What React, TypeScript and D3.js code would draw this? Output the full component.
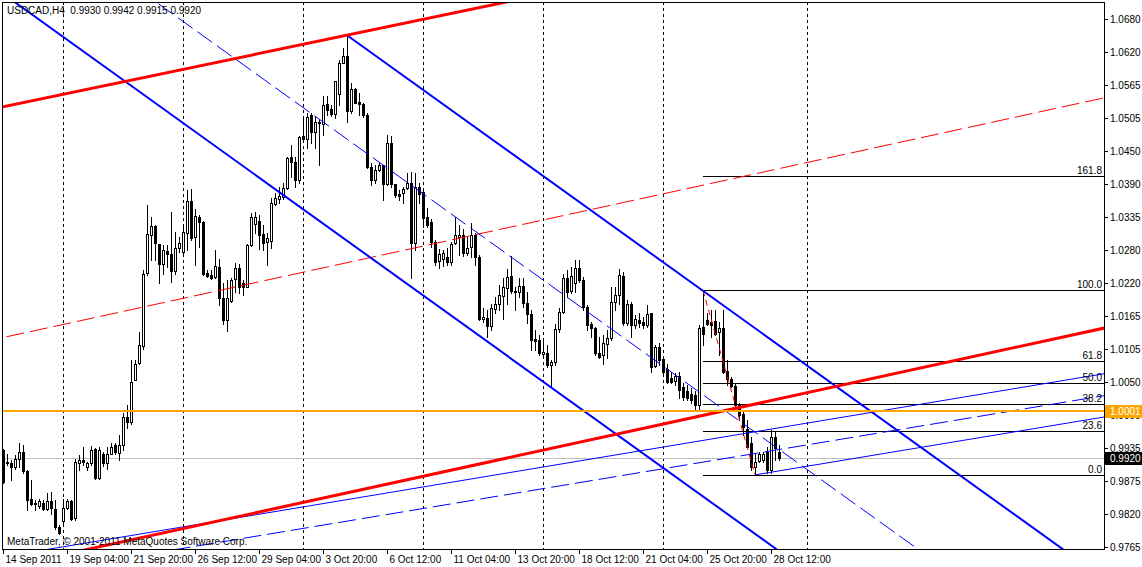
import * as d3 from 'd3';
import { useEffect, useRef } from 'react';

// USDCAD H4, 14 Sep 2011 12:00 .. 28 Oct 2011 20:00 (bar 0 .. 194)
const opens = [
    0.9933, 0.9911, 0.9910, 0.9904, 0.9918, 0.9929, 0.9896, 0.9848, 0.9839, 0.9836,
    0.9842, 0.9830, 0.9844, 0.9830, 0.9800, 0.9810, 0.9832, 0.9845, 0.9815, 0.9911,
    0.9916, 0.9904, 0.9910, 0.9934, 0.9884, 0.9927, 0.9910, 0.9927, 0.9941, 0.9928,
    0.9942, 0.9990, 0.9981, 1.0054, 1.0084, 1.0113, 1.0240, 1.0305, 1.0321, 1.0290,
    1.0255, 1.0278, 1.0272, 1.0244, 1.0283, 1.0277, 1.0310, 1.0365, 1.0302, 1.0337,
    1.0328, 1.0240, 1.0237, 1.0233, 1.0251, 1.0196, 1.0158, 1.0192, 1.0229, 1.0248,
    1.0222, 1.0216, 1.0288, 1.0325, 1.0330, 1.0307, 1.0294, 1.0296, 1.0360, 1.0368,
    1.0372, 1.0388, 1.0441, 1.0433, 1.0401, 1.0477, 1.0472, 1.0514, 1.0485, 1.0502,
    1.0498, 1.0533, 1.0524, 1.0515, 1.0550, 1.0604, 1.0616, 1.0521, 1.0558, 1.0537,
    1.0533, 1.0514, 1.0424, 1.0401, 1.0418, 1.0427, 1.0394, 1.0465, 1.0394, 1.0377,
    1.0378, 1.0388, 1.0395, 1.0292, 1.0389, 1.0380, 1.0337, 1.0329, 1.0294, 1.0261,
    1.0265, 1.0268, 1.0259, 1.0292, 1.0303, 1.0306, 1.0275, 1.0285, 1.0306, 1.0268,
    1.0160, 1.0162, 1.0148, 1.0178, 1.0187, 1.0200, 1.0214, 1.0234, 1.0209, 1.0207,
    1.0217, 1.0188, 1.0169, 1.0125, 1.0124, 1.0099, 1.0102, 1.0080, 1.0086, 1.0142,
    1.0173, 1.0231, 1.0208, 1.0222, 1.0248, 1.0228, 1.0181, 1.0151, 1.0145, 1.0102,
    1.0097, 1.0117, 1.0127, 1.0190, 1.0202, 1.0235, 1.0153, 1.0186, 1.0150, 1.0158,
    1.0155, 1.0149, 1.0170, 1.0079, 1.0112, 1.0091, 1.0074, 1.0058, 1.0052, 1.0062,
    1.0043, 1.0036, 1.0030, 1.0028, 1.0011, 1.0147, 1.0158, 1.0155, 1.0157, 1.0138,
    1.0144, 1.0070, 1.0057, 1.0044, 1.0011, 0.9996, 0.9970, 0.9946, 0.9904, 0.9914,
    0.9916, 0.9930, 0.9898, 0.9956, 0.9930,
];
const highs = [
    0.9935, 0.9927, 0.9916, 0.9924, 0.9945, 0.9942, 0.9898, 0.9881, 0.9846, 0.9849,
    0.9846, 0.9859, 0.9861, 0.9846, 0.9803, 0.9849, 0.9848, 0.9846, 0.9917, 0.9924,
    0.9939, 0.9913, 0.9940, 0.9936, 0.9938, 0.9930, 0.9939, 0.9946, 0.9945, 0.9959,
    0.9997, 1.0011, 1.0089, 1.0089, 1.0138, 1.0245, 1.0358, 1.0337, 1.0323, 1.0291,
    1.0288, 1.0288, 1.0346, 1.0311, 1.0303, 1.0323, 1.0384, 1.0385, 1.0350, 1.0340,
    1.0330, 1.0245, 1.0245, 1.0280, 1.0265, 1.0222, 1.0228, 1.0232, 1.0257, 1.0256,
    1.0228, 1.0291, 1.0343, 1.0346, 1.0340, 1.0323, 1.0309, 1.0369, 1.0378, 1.0389,
    1.0395, 1.0441, 1.0462, 1.0441, 1.0477, 1.0510, 1.0517, 1.0517, 1.0512, 1.0505,
    1.0547, 1.0547, 1.0531, 1.0573, 1.0609, 1.0629, 1.0652, 1.0569, 1.0560, 1.0551,
    1.0535, 1.0517, 1.0430, 1.0427, 1.0433, 1.0427, 1.0479, 1.0477, 1.0394, 1.0384,
    1.0389, 1.0414, 1.0415, 1.0413, 1.0395, 1.0387, 1.0352, 1.0333, 1.0297, 1.0281,
    1.0280, 1.0283, 1.0294, 1.0337, 1.0323, 1.0316, 1.0303, 1.0326, 1.0309, 1.0271,
    1.0179, 1.0176, 1.0187, 1.0199, 1.0219, 1.0231, 1.0246, 1.0269, 1.0216, 1.0231,
    1.0231, 1.0207, 1.0176, 1.0141, 1.0132, 1.0127, 1.0115, 1.0089, 1.0151, 1.0179,
    1.0239, 1.0245, 1.0251, 1.0262, 1.0262, 1.0233, 1.0184, 1.0155, 1.0147, 1.0129,
    1.0132, 1.0141, 1.0216, 1.0216, 1.0246, 1.0242, 1.0193, 1.0190, 1.0167, 1.0170,
    1.0164, 1.0184, 1.0171, 1.0115, 1.0118, 1.0095, 1.0083, 1.0069, 1.0066, 1.0069,
    1.0049, 1.0046, 1.0040, 1.0035, 1.0150, 1.0210, 1.0170, 1.0176, 1.0176, 1.0155,
    1.0176, 1.0089, 1.0060, 1.0049, 1.0014, 0.9999, 0.9985, 0.9956, 0.9927, 0.9930,
    0.9930, 0.9939, 0.9968, 0.9965, 0.9942,
];
const lows = [
    0.9876, 0.9907, 0.9881, 0.9901, 0.9904, 0.9893, 0.9829, 0.9838, 0.9829, 0.9832,
    0.9829, 0.9829, 0.9823, 0.9797, 0.9787, 0.9806, 0.9830, 0.9812, 0.9812, 0.9898,
    0.9907, 0.9898, 0.9907, 0.9882, 0.9882, 0.9905, 0.9901, 0.9926, 0.9927, 0.9915,
    0.9933, 0.9971, 0.9979, 1.0054, 1.0083, 1.0108, 1.0236, 1.0262, 1.0262, 1.0222,
    1.0239, 1.0251, 1.0225, 1.0239, 1.0277, 1.0274, 1.0280, 1.0297, 1.0254, 1.0285,
    1.0236, 1.0233, 1.0230, 1.0231, 1.0184, 1.0151, 1.0140, 1.0190, 1.0207, 1.0205,
    1.0202, 1.0216, 1.0286, 1.0310, 1.0281, 1.0280, 1.0254, 1.0283, 1.0357, 1.0362,
    1.0368, 1.0385, 1.0407, 1.0389, 1.0395, 1.0470, 1.0456, 1.0465, 1.0456, 1.0427,
    1.0479, 1.0514, 1.0512, 1.0508, 1.0531, 1.0603, 1.0502, 1.0517, 1.0534, 1.0514,
    1.0511, 1.0421, 1.0392, 1.0395, 1.0416, 1.0366, 1.0392, 1.0389, 1.0372, 1.0366,
    1.0362, 1.0386, 1.0231, 1.0280, 1.0361, 1.0320, 1.0320, 1.0285, 1.0254, 1.0248,
    1.0252, 1.0254, 1.0254, 1.0290, 1.0271, 1.0269, 1.0271, 1.0268, 1.0254, 1.0158,
    1.0155, 1.0129, 1.0141, 1.0170, 1.0176, 1.0161, 1.0187, 1.0205, 1.0176, 1.0199,
    1.0181, 1.0153, 1.0106, 1.0106, 1.0098, 1.0095, 1.0077, 1.0043, 1.0080, 1.0138,
    1.0170, 1.0199, 1.0205, 1.0207, 1.0225, 1.0176, 1.0141, 1.0129, 1.0098, 1.0092,
    1.0083, 1.0092, 1.0124, 1.0176, 1.0187, 1.0150, 1.0150, 1.0129, 1.0144, 1.0147,
    1.0144, 1.0147, 1.0069, 1.0077, 1.0080, 1.0066, 1.0049, 1.0049, 1.0046, 1.0023,
    1.0020, 1.0020, 1.0015, 1.0002, 1.0000, 1.0115, 1.0150, 1.0129, 1.0132, 1.0098,
    1.0067, 1.0046, 1.0043, 1.0008, 0.9985, 0.9959, 0.9936, 0.9898, 0.9890, 0.9912,
    0.9913, 0.9894, 0.9894, 0.9916, 0.9915,
];
const closes = [
    0.9878, 0.9913, 0.9904, 0.9917, 0.9929, 0.9896, 0.9846, 0.9840, 0.9841, 0.9844,
    0.9830, 0.9844, 0.9832, 0.9799, 0.9789, 0.9832, 0.9845, 0.9814, 0.9913, 0.9916,
    0.9913, 0.9911, 0.9933, 0.9884, 0.9933, 0.9910, 0.9926, 0.9939, 0.9929, 0.9942,
    0.9990, 0.9981, 1.0051, 1.0083, 1.0115, 1.0239, 1.0307, 1.0321, 1.0292, 1.0255,
    1.0279, 1.0272, 1.0244, 1.0284, 1.0292, 1.0311, 1.0365, 1.0300, 1.0339, 1.0328,
    1.0238, 1.0235, 1.0232, 1.0252, 1.0196, 1.0158, 1.0196, 1.0228, 1.0248, 1.0215,
    1.0215, 1.0288, 1.0337, 1.0337, 1.0305, 1.0292, 1.0300, 1.0361, 1.0369, 1.0373,
    1.0387, 1.0439, 1.0433, 1.0401, 1.0476, 1.0472, 1.0510, 1.0485, 1.0502, 1.0499,
    1.0531, 1.0522, 1.0515, 1.0572, 1.0603, 1.0616, 1.0521, 1.0558, 1.0535, 1.0533,
    1.0514, 1.0424, 1.0401, 1.0418, 1.0427, 1.0394, 1.0465, 1.0394, 1.0375, 1.0374,
    1.0385, 1.0396, 1.0292, 1.0389, 1.0376, 1.0335, 1.0323, 1.0294, 1.0259, 1.0273,
    1.0275, 1.0259, 1.0291, 1.0306, 1.0306, 1.0274, 1.0283, 1.0306, 1.0268, 1.0160,
    1.0164, 1.0148, 1.0179, 1.0187, 1.0202, 1.0216, 1.0233, 1.0209, 1.0207, 1.0217,
    1.0188, 1.0169, 1.0124, 1.0122, 1.0101, 1.0103, 1.0080, 1.0086, 1.0142, 1.0173,
    1.0231, 1.0207, 1.0235, 1.0248, 1.0228, 1.0181, 1.0150, 1.0144, 1.0101, 1.0095,
    1.0118, 1.0127, 1.0190, 1.0202, 1.0236, 1.0153, 1.0186, 1.0150, 1.0160, 1.0154,
    1.0150, 1.0169, 1.0077, 1.0112, 1.0089, 1.0069, 1.0051, 1.0051, 1.0061, 1.0037,
    1.0025, 1.0023, 1.0020, 1.0011, 1.0144, 1.0134, 1.0151, 1.0150, 1.0135, 1.0144,
    1.0069, 1.0057, 1.0044, 1.0011, 0.9994, 0.9973, 0.9939, 0.9904, 0.9913, 0.9927,
    0.9927, 0.9898, 0.9956, 0.9936, 0.9920,
];

const timeLabels = [
    '14 Sep 2011', '19 Sep 04:00', '21 Sep 20:00', '26 Sep 12:00', '29 Sep 04:00', '3 Oct 20:00',
    '6 Oct 12:00', '11 Oct 04:00', '13 Oct 20:00', '18 Oct 12:00', '21 Oct 04:00', '25 Oct 20:00',
    '28 Oct 12:00',
];
const timeLabelBars = [0, 16, 32, 48, 64, 80, 96, 112, 128, 144, 160, 176, 192];
const weekStartBars = [15, 45, 75, 105, 135, 165, 201];

const priceLabels = [
    '0.9765', '0.9820', '0.9875', '0.9935', '0.9990', '1.0050', '1.0105', '1.0165', '1.0220',
    '1.0280', '1.0335', '1.0390', '1.0450', '1.0505', '1.0565', '1.0620', '1.0680',
];
const priceAxisMin = 0.9765;
const priceAxisMax = 1.068;

// objects: [bar, price] anchor pairs
const redChannelUpper = [[86, 1.0652], [275, 1.0925]];
const redChannelLower = [[49, 0.9803], [275, 1.0144]];
const redChannelMid = [[0, 1.0128], [275, 1.0543]];
const blueChannelUpper = [[86, 1.0652], [266, 0.9756]];
const blueChannelLower = [[0, 1.0724], [195, 0.9753]];
const blueChannelMid = [[0, 1.09], [230, 0.9755]];
const thinChannelUpper = [[0, 0.9748], [275, 1.0065]];
const thinChannelMid = [[0, 0.9711], [275, 1.0027]];
const thinChannelLower = [[188, 0.989], [275, 0.999]];

const fibHigh = [175, 1.021];
const fibLow = [188, 0.989];
const fibLevels = [0, 23.6, 38.2, 50, 61.8, 100, 161.8];

const supportPrice = 1.0001;
const bidPrice = 0.992;
const chartTitle = 'USDCAD,H4  0.9930 0.9942 0.9915 0.9920';
const copyright = 'MetaTrader, © 2001-2011 MetaQuotes Software Corp.';

export default function App() {
    const chartRef = useRef<SVGSVGElement | null>(null);

    useEffect(() => {
        if (!chartRef.current) return;
        const svg = d3.select(chartRef.current);
        svg.selectAll('*').remove();

        const width = 1142;
        const height = 567;
        const plot = { left: 2, top: 2, right: 1104, bottom: 549 };
        const font = "'Liberation Sans', Arial, sans-serif";
        const fontSize = 10;

        // 4px per bar, bar 0 at x=3
        const x = d3.scaleLinear().domain([0, 1]).range([3, 7]);
        const y = d3.scaleLinear().domain([priceAxisMin, priceAxisMax]).range([547, 19.05]);

        svg.attr('viewBox', `0 0 ${width} ${height}`);
        svg.append('rect').attr('width', width).attr('height', height).attr('fill', '#fff');

        svg.append('defs')
            .append('clipPath')
            .attr('id', 'plotClip')
            .append('rect')
            .attr('x', plot.left)
            .attr('y', plot.top)
            .attr('width', plot.right - plot.left)
            .attr('height', plot.bottom - plot.top);

        const g = svg.append('g').attr('clip-path', 'url(#plotClip)').attr('shape-rendering', 'crispEdges');

        // weekly grid
        g.selectAll('line.grid')
            .data(weekStartBars)
            .join('line')
            .attr('x1', (d) => Math.round(x(d)) + 0.5)
            .attr('x2', (d) => Math.round(x(d)) + 0.5)
            .attr('y1', plot.top)
            .attr('y2', plot.bottom)
            .attr('stroke', '#000')
            .attr('stroke-dasharray', '3,3');

        // bid line
        g.append('line')
            .attr('x1', plot.left)
            .attr('x2', plot.right)
            .attr('y1', Math.round(y(bidPrice)) + 0.5)
            .attr('y2', Math.round(y(bidPrice)) + 0.5)
            .attr('stroke', '#c0c0c0');

        // candles
        const bars = d3.range(opens.length);
        const candles = g.append('g');
        bars.forEach((i) => {
            const cx = Math.round(x(i));
            const o = opens[i];
            const c = closes[i];
            const hi = Math.round(y(highs[i]));
            const lo = Math.round(y(lows[i]));
            const top = Math.round(y(Math.max(o, c)));
            const bot = Math.round(y(Math.min(o, c)));
            candles.append('rect').attr('x', cx).attr('y', hi).attr('width', 1).attr('height', lo - hi + 1).attr('fill', '#000');
            candles.append('rect').attr('x', cx - 1).attr('y', top).attr('width', 3).attr('height', bot - top + 1).attr('fill', '#000');
            if (c > o && bot - top > 1) {
                candles.append('rect').attr('x', cx).attr('y', top + 1).attr('width', 1).attr('height', bot - top - 1).attr('fill', '#fff');
            }
        });

        // fibonacci levels
        const fibStartX = x(fibHigh[0]);
        const fibPrice = (lvl: number) => fibLow[1] + ((fibHigh[1] - fibLow[1]) * lvl) / 100;
        g.selectAll('line.fib')
            .data(fibLevels)
            .join('line')
            .attr('x1', fibStartX)
            .attr('x2', plot.right)
            .attr('y1', (d) => Math.round(y(fibPrice(d))) + 0.5)
            .attr('y2', (d) => Math.round(y(fibPrice(d))) + 0.5)
            .attr('stroke', '#000');

        const lineAt = (a: number[], b: number[], i: number) => a[1] + ((b[1] - a[1]) * (i - a[0])) / (b[0] - a[0]);
        const drawLine = (anchors: number[][], from: number | null, to: number, color: string, w: number, dash?: string) => {
            const [a, b] = anchors;
            const i0 = from === null ? -5 : from;
            const el = g.append('line')
                .attr('x1', x(i0))
                .attr('y1', y(lineAt(a, b, i0)))
                .attr('x2', x(to))
                .attr('y2', y(lineAt(a, b, to)))
                .attr('stroke', color)
                .attr('stroke-width', w)
                .attr('shape-rendering', 'auto');
            if (dash) el.attr('stroke-dasharray', dash);
        };

        drawLine([fibHigh, fibLow], fibHigh[0], fibLow[0], '#ff0000', 1, '6,4');

        drawLine(redChannelMid, null, 280, '#ff0000', 1, '18,6');
        drawLine(blueChannelMid, null, 280, '#0000ff', 1, '18,6');
        drawLine(thinChannelMid, null, 280, '#0000ff', 1, '18,6');
        drawLine(thinChannelUpper, null, 280, '#0000ff', 1);
        drawLine(thinChannelLower, thinChannelLower[0][0], 280, '#0000ff', 1);
        drawLine(blueChannelUpper, blueChannelUpper[0][0], 280, '#0000ff', 2);
        drawLine(blueChannelLower, null, 280, '#0000ff', 2);
        drawLine(redChannelUpper, null, 280, '#ff0000', 3);
        drawLine(redChannelLower, null, 280, '#ff0000', 3);

        // support line
        g.append('rect')
            .attr('x', plot.left)
            .attr('y', Math.round(y(supportPrice)) - 1)
            .attr('width', plot.right - plot.left)
            .attr('height', 2)
            .attr('fill', '#ffa500');

        // fib labels
        svg.append('g')
            .selectAll('text')
            .data(fibLevels)
            .join('text')
            .attr('x', plot.right - 2)
            .attr('y', (d) => Math.round(y(fibPrice(d))) - 2)
            .attr('text-anchor', 'end')
            .attr('font-family', font)
            .attr('font-size', fontSize)
            .attr('fill', '#000')
            .text((d) => d.toFixed(1));

        // frame
        svg.append('rect')
            .attr('x', plot.left + 0.5)
            .attr('y', plot.top + 0.5)
            .attr('width', plot.right - plot.left)
            .attr('height', plot.bottom - plot.top)
            .attr('fill', 'none')
            .attr('stroke', '#000')
            .attr('shape-rendering', 'crispEdges');

        // price axis
        const step = (priceAxisMax - priceAxisMin) / (priceLabels.length - 1);
        const pAxis = svg.append('g').attr('shape-rendering', 'crispEdges');
        priceLabels.forEach((lbl, k) => {
            const py = Math.round(y(priceAxisMin + k * step)) + 0.5;
            pAxis.append('line').attr('x1', plot.right).attr('x2', plot.right + 4).attr('y1', py).attr('y2', py).attr('stroke', '#000');
            pAxis.append('text')
                .attr('x', plot.right + 6)
                .attr('y', py)
                .attr('dy', '0.35em')
                .attr('font-family', font)
                .attr('font-size', fontSize)
                .attr('fill', '#000')
                .text(lbl);
        });

        // time axis
        const tAxis = svg.append('g').attr('shape-rendering', 'crispEdges');
        timeLabelBars.forEach((b, k) => {
            const tx = Math.round(x(b)) + 0.5;
            tAxis.append('line').attr('x1', tx).attr('x2', tx).attr('y1', plot.bottom).attr('y2', plot.bottom + 5).attr('stroke', '#000');
            tAxis.append('text')
                .attr('x', tx + 2)
                .attr('y', plot.bottom + 14)
                .attr('font-family', font)
                .attr('font-size', fontSize)
                .attr('fill', '#000')
                .text(timeLabels[k]);
        });

        // price tags
        const tag = (price: number, bg: string, label: string) => {
            const ty = Math.round(y(price));
            svg.append('rect')
                .attr('x', plot.right + 1)
                .attr('y', ty - 6)
                .attr('width', width - plot.right - 1)
                .attr('height', 13)
                .attr('fill', bg);
            svg.append('text')
                .attr('x', plot.right + 6)
                .attr('y', ty)
                .attr('dy', '0.35em')
                .attr('font-family', font)
                .attr('font-size', fontSize)
                .attr('fill', '#fff')
                .text(label);
        };
        tag(supportPrice, '#ffa500', supportPrice.toFixed(4));
        tag(bidPrice, '#000', bidPrice.toFixed(4));

        svg.append('text')
            .attr('x', 7)
            .attr('y', 14)
            .attr('font-family', font)
            .attr('font-size', fontSize)
            .attr('fill', '#000')
            .style('white-space', 'pre')
            .text(chartTitle);

        svg.append('text')
            .attr('x', 7)
            .attr('y', 545)
            .attr('font-family', font)
            .attr('font-size', fontSize)
            .attr('fill', '#000')
            .text(copyright);
    }, []);

    return (
        <svg
            ref={chartRef}
            width={1142}
            height={567}
            style={{ position: 'absolute', left: 0, top: 0, display: 'block' }}
        />
    );
}
